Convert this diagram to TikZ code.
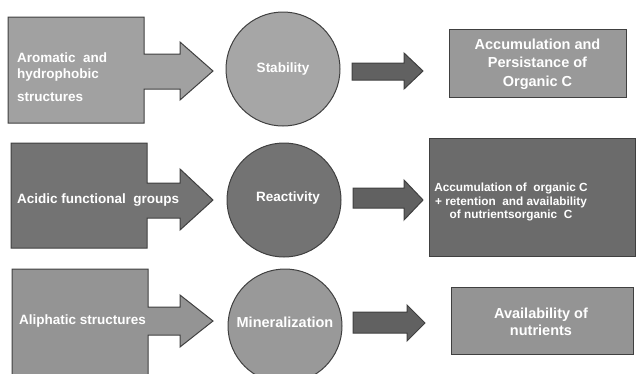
\documentclass[tikz,border=0pt]{standalone}
\usepackage{fontspec}
\setmainfont{Liberation Sans}
\begin{document}
\begin{tikzpicture}[x=1pt,y=-1pt,
  shapeline/.style={draw=black!75,line width=1pt},
  big/.style={font=\bfseries\fontsize{13.5}{16}\selectfont},
  bigger/.style={font=\bfseries\fontsize{14.5}{16.5}\selectfont},
  mid/.style={font=\bfseries\fontsize{11.8}{13.5}\selectfont},
  txt/.style={text=white,inner sep=0pt},
  circ/.style={shapeline,circle,minimum size=114pt,inner sep=0pt},
  rbox/.style={shapeline,rectangle,inner sep=0pt},
  darr/.style={shapeline,fill=black!62}]
\useasboundingbox (0,0) rectangle (642,373);
\clip (0,0) rectangle (642,373);
% row 1
\draw[shapeline,fill=black!37] (8,17) -- (144,17) -- (144,54) -- (180,54) -- (180,42) -- (213,71) -- (180,100) -- (180,89) -- (144,89) -- (144,123) -- (8,123) -- cycle;
\node[txt,big,anchor=west,align=left] (t1) at (17,77) {Aromatic\ \ and\\hydrophobic\\[7pt]structures};
\node[circ,fill=black!35] (c1) at (283,69) {};
\node[txt,big] (c1t) at (283,69) {Stability};
\node[rbox,fill=black!40,minimum width=177pt,minimum height=68pt] (b1) at (537.5,63) {};
\node[txt,bigger,align=center] (b1t) at (537.5,64) {Accumulation and\\[2pt]Persistance of\\[2pt]Organic C};
\draw[darr] (352,63) -- (404,63) -- (404,53) -- (423,71) -- (404,89) -- (404,80) -- (352,80) -- cycle;
% row 2
\draw[shapeline,fill=black!55] (11,143) -- (147,143) -- (147,183) -- (180,183) -- (180,169) -- (213,200) -- (180,230) -- (180,218) -- (147,218) -- (147,248) -- (11,248) -- cycle;
\node[txt,big,anchor=west] (t2) at (17,200) {Acidic functional\ \ groups};
\node[circ,fill=black!55] (c2) at (284,200) {};
\node[txt,big] (c2t) at (288,198) {Reactivity};
\node[rbox,fill=black!58,minimum width=206pt,minimum height=118pt] (b2) at (532,197) {};
\node[txt,mid,align=center] (b2t) at (511,202) {Accumulation of\ \ organic C\\+ retention\ \ and availability\\of nutrientsorganic\ \ C};
\draw[darr] (353,188) -- (404,188) -- (404,180) -- (423,200) -- (404,220) -- (404,208) -- (353,208) -- cycle;
% row 3
\draw[shapeline,fill=black!42] (12,269) -- (148,269) -- (148,307) -- (180,307) -- (180,295) -- (213,321) -- (180,347) -- (180,335) -- (148,335) -- (148,376) -- (12,376) -- cycle;
\node[txt,big,anchor=west] (t3) at (19,321) {Aliphatic structures};
\node[circ,fill=black!40] (c3) at (285,326) {};
\node[txt,bigger] (c3t) at (285,322) {Mineralization};
\node[rbox,fill=black!42,minimum width=182pt,minimum height=67pt] (b3) at (542,321) {};
\node[txt,bigger,align=center] (b3t) at (541,322) {Availability of\\[0pt]nutrients};
\draw[darr] (353,312) -- (407,312) -- (407,305) -- (425,323) -- (407,341) -- (407,333) -- (353,333) -- cycle;
\end{tikzpicture}
\end{document}
